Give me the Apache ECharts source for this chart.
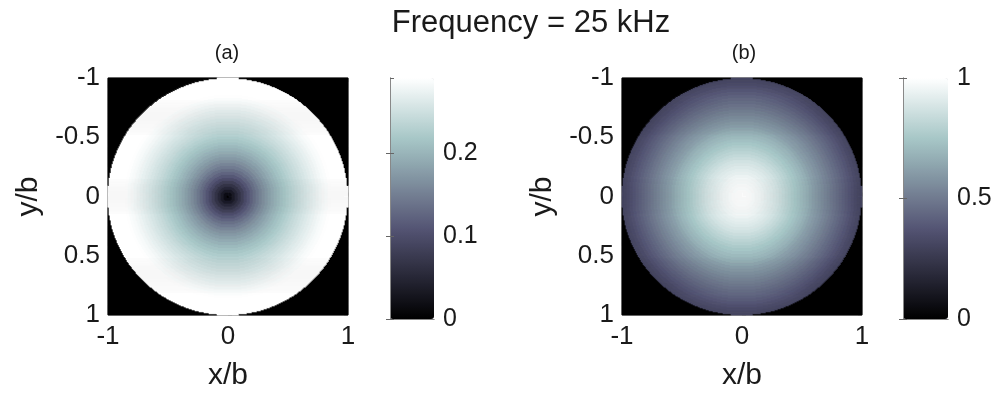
<!DOCTYPE html>
<html>
<head>
<meta charset="utf-8">
<script src="https://cdn.jsdelivr.net/npm/echarts@6/dist/echarts.min.js"></script>
<style>
  html, body { margin: 0; padding: 0; background: #fff; }
  #chart { width: 998px; height: 396px; }
</style>
</head>
<body>
<div id="chart"></div>
<script>
const radius = [0, 0.025, 0.05, 0.075, 0.1, 0.125, 0.15, 0.175, 0.2, 0.225,
  0.25, 0.275, 0.3, 0.325, 0.35, 0.375, 0.4, 0.425, 0.45, 0.475,
  0.5, 0.525, 0.55, 0.575, 0.6, 0.625, 0.65, 0.675, 0.7, 0.725,
  0.75, 0.775, 0.8, 0.825, 0.85, 0.875, 0.9, 0.925, 0.95, 0.975, 1]
// panel (a)
const profileA = [0, 0.02, 0.038, 0.055, 0.07, 0.085, 0.1, 0.113, 0.125, 0.136,
  0.147, 0.157, 0.166, 0.175, 0.183, 0.191, 0.198, 0.205, 0.212, 0.218,
  0.224, 0.23, 0.236, 0.241, 0.246, 0.251, 0.256, 0.261, 0.266, 0.27,
  0.275, 0.279, 0.283, 0.286, 0.289, 0.29, 0.29, 0.29, 0.29, 0.29, 0.29]
// panel (b)
const profileB = [1, 0.998, 0.995, 0.99, 0.98, 0.97, 0.96, 0.945, 0.93, 0.915,
  0.9, 0.885, 0.87, 0.85, 0.83, 0.81, 0.79, 0.77, 0.75, 0.73,
  0.71, 0.69, 0.67, 0.645, 0.62, 0.6, 0.58, 0.56, 0.54, 0.52,
  0.5, 0.48, 0.46, 0.44, 0.42, 0.4, 0.38, 0.36, 0.34, 0.325, 0.31]
const colorbarA = { min: 0, max: 0.29, interval: 0.1 }
const colorbarB = { min: 0, max: 1, interval: 0.5 }
const titleText = 'Frequency = 25 kHz'
const panelNames = ['(a)', '(b)']

// MATLAB "bone" colormap
const bone = ['#000000', '#1c1c27', '#38384d', '#545474', '#707a8f', '#8ba1ab', '#a7c7c7', '#d3e3e3', '#ffffff']

const N = 240
const cells = []
for (let i = 0; i < N; i++) cells.push(String(i))

function fieldData(profile) {
  const data = []
  for (let i = 0; i < N; i++) {
    for (let j = 0; j < N; j++) {
      const x = -1 + (i + 0.5) * 2 / N
      const y = -1 + (j + 0.5) * 2 / N
      const r = Math.sqrt(x * x + y * y)
      let v = 0
      if (r <= 1) {
        let best = 0
        for (let k = 1; k < radius.length; k++) {
          if (Math.abs(radius[k] - r) < Math.abs(radius[best] - r)) best = k
        }
        v = profile[best]
      }
      data.push([i, j, v])
    }
  }
  return data
}

const font = 'Liberation Sans'
const textColor = '#1a1a1a'
const tickStyle = { inside: true, length: 4, lineStyle: { color: '#888' } }

const plots = [
  { left: 108, cbLeft: 390, cbWidth: 44, profile: profileA, cb: colorbarA, title: 227 },
  { left: 622, cbLeft: 903, cbWidth: 45, profile: profileB, cb: colorbarB, title: 744 }
]

const grid = []
const xAxis = []
const yAxis = []
const series = []
const visualMap = []
const graphic = [{
  type: 'text', x: 531, y: 8,
  style: { text: titleText, font: '31px "' + font + '"', fill: textColor, textAlign: 'center' }
}]

plots.forEach(function (p, n) {
  const g = grid.length
  grid.push({ left: p.left, top: 78, width: 240, height: 240, show: true, backgroundColor: '#000', borderColor: '#333' })
  grid.push({ left: p.cbLeft, top: 78, width: p.cbWidth, height: 241 })

  const xi = xAxis.length
  const yi = yAxis.length
  xAxis.push({ gridIndex: g, type: 'category', data: cells, show: false, position: 'bottom' })
  yAxis.push({ gridIndex: g, type: 'category', data: cells, show: false, position: 'left' })
  xAxis.push({
    gridIndex: g, type: 'value', min: -1, max: 1, interval: 1, position: 'bottom',
    name: 'x/b', nameLocation: 'middle', nameGap: 46,
    nameTextStyle: { fontSize: 30, fontFamily: font, color: textColor },
    axisLine: { show: false }, axisTick: tickStyle, splitLine: { show: false },
    axisLabel: { fontSize: 26, fontFamily: font, color: textColor, margin: 9 }
  })
  xAxis.push({
    gridIndex: g, type: 'value', min: -1, max: 1, interval: 1, position: 'top',
    axisLine: { show: false }, axisTick: tickStyle, splitLine: { show: false }, axisLabel: { show: false }
  })
  yAxis.push({
    gridIndex: g, type: 'value', min: -1, max: 1, interval: 0.5, inverse: true, position: 'left',
    name: 'y/b', nameLocation: 'middle', nameGap: 64,
    nameTextStyle: { fontSize: 30, fontFamily: font, color: textColor },
    axisLine: { show: false }, axisTick: tickStyle, splitLine: { show: false },
    axisLabel: { fontSize: 26, fontFamily: font, color: textColor, margin: 8 }
  })
  yAxis.push({
    gridIndex: g, type: 'value', min: -1, max: 1, interval: 0.5, inverse: true, position: 'right',
    axisLine: { show: false }, axisTick: tickStyle, splitLine: { show: false }, axisLabel: { show: false }
  })

  // colorbar frame and ticks
  const frame = { show: true, lineStyle: { color: '#888', width: 1 } }
  xAxis.push({ gridIndex: g + 1, type: 'value', min: 0, max: 1, position: 'bottom', z: 10,
    axisLine: frame, axisTick: { show: false }, axisLabel: { show: false }, splitLine: { show: false } })
  xAxis.push({ gridIndex: g + 1, type: 'value', min: 0, max: 1, position: 'top', z: 10,
    axisLine: frame, axisTick: { show: false }, axisLabel: { show: false }, splitLine: { show: false } })
  yAxis.push({
    gridIndex: g + 1, type: 'value', min: p.cb.min, max: p.cb.max, interval: p.cb.interval, position: 'right', z: 10,
    axisLine: frame, axisTick: { inside: true, length: 4, lineStyle: { color: '#666' } }, splitLine: { show: false },
    axisLabel: { fontSize: 25, fontFamily: font, color: textColor, margin: 9, showMaxLabel: p.cb.max === 1 }
  })
  yAxis.push({
    gridIndex: g + 1, type: 'value', min: p.cb.min, max: p.cb.max, interval: p.cb.interval, position: 'left', z: 10,
    axisLine: frame, axisTick: { inside: true, length: 4, lineStyle: { color: '#666' } }, splitLine: { show: false },
    axisLabel: { show: false }
  })

  series.push({
    type: 'heatmap', xAxisIndex: xi, yAxisIndex: yi,
    data: fieldData(p.profile), progressive: 0, emphasis: { disabled: true }
  })

  visualMap.push({
    type: 'continuous', seriesIndex: n, min: p.cb.min, max: p.cb.max,
    calculable: false, hoverLink: false, show: true,
    left: p.cbLeft, top: 78, itemWidth: p.cbWidth, itemHeight: 241, padding: 0,
    inRange: { color: bone }
  })

  graphic.push({
    type: 'text', x: p.title, y: 43,
    style: { text: panelNames[n], font: '20px "' + font + '"', fill: textColor, textAlign: 'center' }
  })
})

const chart = echarts.init(document.getElementById('chart'))
chart.setOption({
  animation: false,
  backgroundColor: '#fff',
  textStyle: { fontFamily: font },
  grid: grid,
  xAxis: xAxis,
  yAxis: yAxis,
  visualMap: visualMap,
  series: series,
  graphic: graphic
})
</script>
</body>
</html>
